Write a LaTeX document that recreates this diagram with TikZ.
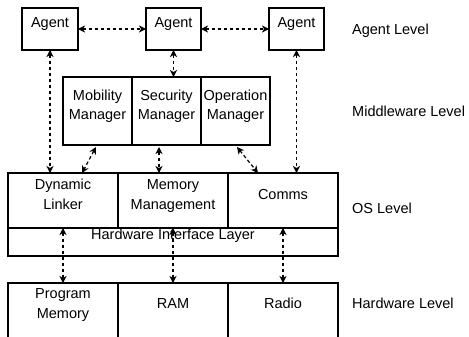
\documentclass[tikz,border=0pt]{standalone}
\usepackage{fontspec}
\setmainfont{Liberation Sans}
\usetikzlibrary{arrows.meta,calc}
\begin{document}
\begin{tikzpicture}[x=1pt,y=-1pt,
  box/.style={draw,line width=1.1pt,inner sep=0pt,outer sep=0pt,anchor=north west},
  txt/.style={font=\fontsize{14.5}{20}\selectfont,align=center,inner sep=0pt,anchor=base},
  lvl/.style={font=\fontsize{14.5}{20}\selectfont,anchor=base west,inner sep=0pt},
  dar/.style={line width=1.2pt,dash pattern=on 3.5pt off 2.5pt,
    {Stealth[length=7pt,width=7pt,inset=2pt]}-{Stealth[length=7pt,width=7pt,inset=2pt]}}]
\useasboundingbox (0,0) rectangle (469,337);
% Agent level
\node[box,minimum width=56pt,minimum height=42pt] (a1) at (22,8) {};
\node[box,minimum width=55pt,minimum height=42pt] (a2) at (146,8) {};
\node[box,minimum width=55pt,minimum height=42pt] (a3) at (269,8) {};
\node[txt] (a1t) at (50,28) {Agent};
\node[txt] (a2t) at (173.5,28) {Agent};
\node[txt] (a3t) at (296.5,28) {Agent};
% Middleware level
\node[box,minimum width=69pt,minimum height=68pt] (mm) at (63,77) {};
\node[box,minimum width=69pt,minimum height=68pt] (sm) at (132,77) {};
\node[box,minimum width=69pt,minimum height=68pt] (om) at (201,77) {};
\node[txt] (mmt) at (97.5,120) {Mobility\\Manager};
\node[txt] (smt) at (166.5,120) {Security\\Manager};
\node[txt] (omt) at (235.5,120) {Operation\\Manager};
% OS level
\node[box,minimum width=110pt,minimum height=55pt] (dl) at (8,173) {};
\node[box,minimum width=110pt,minimum height=55pt] (mg) at (118,173) {};
\node[box,minimum width=110pt,minimum height=55pt] (cm) at (228,173) {};
\node[box,minimum width=330pt,minimum height=28pt] (hil) at (8,228) {};
\node[txt] (dlt) at (63,209) {Dynamic\\Linker};
\node[txt] (mgt) at (173,209) {Memory\\Management};
\node[txt] (cmt) at (283,199) {Comms};
\node[txt] (hilt) at (173,239) {Hardware Interface Layer};
% Hardware level
\node[box,minimum width=110pt,minimum height=70pt] (pm) at (8,283) {};
\node[box,minimum width=110pt,minimum height=70pt] (ram) at (118,283) {};
\node[box,minimum width=110pt,minimum height=70pt] (rad) at (228,283) {};
\node[txt] (pmt) at (63,318) {Program\\Memory};
\node[txt] (ramt) at (173,308) {RAM};
\node[txt] (radt) at (283,308) {Radio};
% Level labels
\node[lvl] (l1) at (352,35) {Agent Level};
\node[lvl] (l2) at (352,117) {Middleware Level};
\node[lvl] (l3) at (352,213) {OS Level};
\node[lvl] (l4) at (352,308) {Hardware Level};
% Connectors
\draw[dar] (a1.east) -- (a2.west);
\draw[dar] (a2.east) -- (a3.west);
\draw[dar] (a1.south) -- (a1.south |- dl.north);
\draw[dar] (a3.south) -- (a3.south |- cm.north);
\draw[dar] (a2.south) -- (a2.south |- sm.north);
\draw[dar] ([xshift=-1.5pt,yshift=-2pt]mm.south) -- ([xshift=19pt]dl.north);
\draw[dar] ([xshift=-7.5pt,yshift=-2pt]sm.south) -- ([xshift=-14pt]mg.north);
\draw[dar] ([xshift=1.5pt,yshift=-2pt]om.south) -- ([xshift=-25pt]cm.north);
\draw[dar] (hil.north -| pm.north) -- (pm.north);
\draw[dar] (hil.north -| ram.north) -- (ram.north);
\draw[dar] (hil.north -| rad.north) -- (rad.north);
\end{tikzpicture}
\end{document}
